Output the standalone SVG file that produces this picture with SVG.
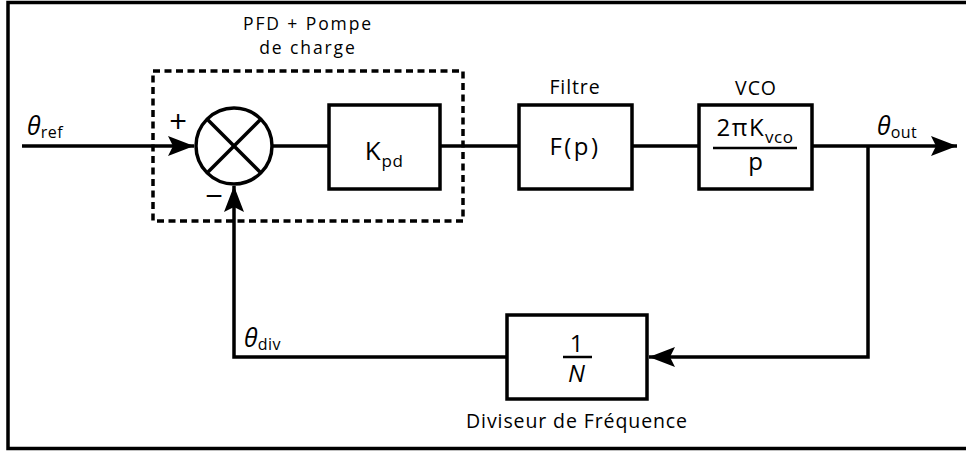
<svg xmlns="http://www.w3.org/2000/svg" width="966" height="452" viewBox="0 0 966 452">
<style>
text{font-family:"Open Sans","Noto Sans","DejaVu Sans",sans-serif;fill:#000}
.lbl{font-size:19.5px;text-anchor:middle;letter-spacing:0.9px}
.big{font-size:24px;letter-spacing:1px}
.th{font-size:25px;font-style:italic}
.sub{font-size:16px;letter-spacing:0.5px}
.box{fill:#fff;stroke:#000;stroke-width:3.5}
.ln{fill:none;stroke:#000;stroke-width:3.5}
</style>
<defs>
<marker id="arr" viewBox="0 0 26 20" refX="26" refY="10" markerWidth="26" markerHeight="20" markerUnits="userSpaceOnUse" orient="auto">
<path d="M0,0 L26,10 L0,20 L5,10 Z" fill="#000"/>
</marker>
</defs>
<rect x="8" y="2.5" width="980" height="446" fill="none" stroke="#000" stroke-width="3.5"/>

<g id="connectors">
<line class="ln" x1="22" y1="146" x2="194" y2="146" marker-end="url(#arr)"/>
<line class="ln" x1="272" y1="146" x2="329" y2="146"/>
<line class="ln" x1="440" y1="146" x2="519" y2="146"/>
<line class="ln" x1="632" y1="146" x2="699" y2="146"/>
<line class="ln" x1="812" y1="146" x2="957" y2="146" marker-end="url(#arr)"/>
<polyline class="ln" points="868,146 868,357 649,357" marker-end="url(#arr)"/>
<polyline class="ln" points="507,357 234,357 234,186" marker-end="url(#arr)"/>
</g>

<g id="pfd-group">
<rect x="153" y="71" width="310" height="150" fill="none" stroke="#000" stroke-width="3.5" stroke-dasharray="7 4.5"/>
<text class="lbl" x="308" y="30" style="font-size:17.5px;letter-spacing:1.9px">PFD + Pompe<tspan x="308" dy="24">de charge</tspan></text>
</g>

<g id="sum">
<circle cx="234" cy="146" r="38" fill="#fff" stroke="#000" stroke-width="3.5"/>
<line class="ln" x1="207" y1="119" x2="261" y2="173"/>
<line class="ln" x1="261" y1="119" x2="207" y2="173"/>
<text x="178" y="133" font-size="31" text-anchor="middle">+</text>
<text x="214" y="207" font-size="31" text-anchor="middle">−</text>
</g>

<g id="kpd">
<rect class="box" x="329" y="105" width="111" height="84"/>
<text x="384" y="160" class="big" text-anchor="middle" style="font-size:26px">K<tspan class="sub" dy="7" style="font-size:17px">pd</tspan></text>
</g>

<g id="filtre">
<rect class="box" x="519" y="105" width="113" height="84"/>
<text class="lbl" x="575" y="94">Filtre</text>
<text class="big" x="575" y="155" text-anchor="middle" style="letter-spacing:2.5px">F(p)</text>
</g>

<g id="vco">
<rect class="box" x="699" y="105" width="113" height="84"/>
<text class="lbl" x="756" y="95">VCO</text>
<text class="big" x="755" y="136" text-anchor="middle" style="letter-spacing:1.5px">2πK<tspan class="sub" dy="7" style="font-size:17px">vco</tspan></text>
<line x1="713" y1="148" x2="797" y2="148" stroke="#000" stroke-width="2.5"/>
<text class="big" x="756" y="170" text-anchor="middle">p</text>
</g>

<g id="diviseur">
<rect class="box" x="507" y="315" width="140" height="84"/>
<text class="big" x="577" y="352" text-anchor="middle">1</text>
<line x1="563" y1="357" x2="592" y2="357" stroke="#000" stroke-width="2.5"/>
<text class="big" x="577" y="382" text-anchor="middle" font-style="italic">N</text>
<text class="lbl" x="577" y="428">Diviseur de Fréquence</text>
</g>

<g id="labels">
<text class="th" x="27" y="135">θ<tspan class="sub" font-style="normal" dy="3">ref</tspan></text>
<text class="th" x="877" y="135">θ<tspan class="sub" font-style="normal" dy="3">out</tspan></text>
<text class="th" x="244" y="347">θ<tspan class="sub" font-style="normal" dy="3">div</tspan></text>
</g>
</svg>
